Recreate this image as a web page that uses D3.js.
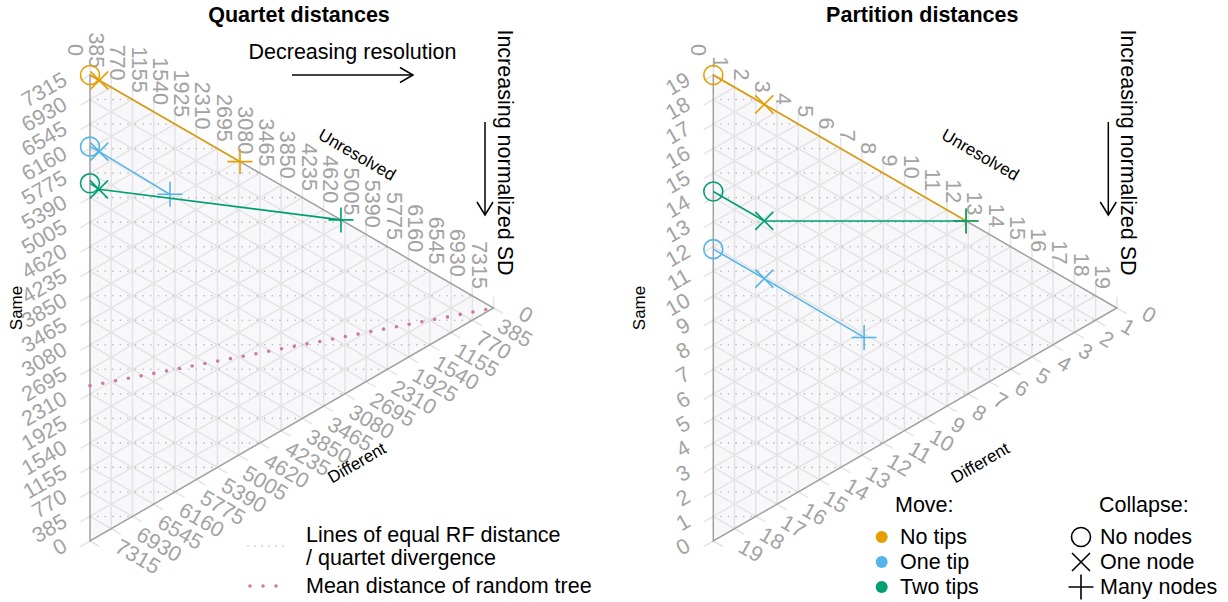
<!DOCTYPE html>
<html>
<head>
<meta charset="utf-8">
<script src="https://cdn.jsdelivr.net/npm/d3@7"></script>
<style>
  body { margin: 0; background: #ffffff; }
  svg { display: block; }
  text { font-family: "Liberation Sans", Arial, Helvetica, sans-serif; }
</style>
</head>
<body>
<svg id="chart" width="1228" height="602"></svg>
<script>
// ---- Data -------------------------------------------------------------
const moveLabels = ["No tips", "One tip", "Two tips"];
const moveColours = ["#E69F00", "#56B4E9", "#009E73"];
const collapseLabels = ["No nodes", "One node", "Many nodes"];
const collapseShapes = ["circle", "cross", "plus"];

// Quartet counts: rows = tips moved, columns = nodes collapsed
const quartetTotal = 7315;
const quartetTicks = [0, 385, 770, 1155, 1540, 1925, 2310, 2695, 3080, 3465,
  3850, 4235, 4620, 5005, 5390, 5775, 6160, 6545, 6930, 7315];
const quartetSame = [[7315, 7147, 4596], [6190, 6027, 4717], [5615, 5439, 2766]];
const quartetUnresolved = [[0, 168, 2719], [0, 169, 1450], [0, 163, 4549]];
const quartetDifferent = [[0, 0, 0], [1125, 1119, 1148], [1700, 1713, 0]];

// Expected quartet status of a random tree (line towards the Unresolved corner)
const randomSame = [2438.3, 0];
const randomUnresolved = [0, 7315];
const randomDifferent = [4876.7, 0];

// Partition (split) counts: rows = tips moved, columns = nodes collapsed
const partitionTotal = 19;
const partitionTicks = [0, 1, 2, 3, 4, 5, 6, 7, 8, 9, 10, 11, 12, 13, 14, 15, 16, 17, 18, 19];
const partitionSame = [[19, 16.6, 7.1], [11.9, 9.5, 4.75], [14.25, 11.85, 7.1]];
const partitionUnresolved = [[0, 2.4, 11.9], [0, 2.4, 7.1], [0, 2.4, 11.9]];
const partitionDifferent = [[0, 0, 0], [7.1, 7.1, 7.15], [4.75, 4.75, 0]];

// ---- Layout -----------------------------------------------------------
const svg = d3.select("#chart");
const triH = 466;
const triW = triH * Math.sqrt(3) / 2;
const yBottom = 541;
const tickFont = 21.5;
const tickCol = "#a3a3a3";
const gridCol = "#e4e4e4";
const edgeCol = "#a0a0a0";

const shapePaths = {
  cross: "M-9,-9L9,9M-9,9L9,-9",
  plus: "M-12.5,0H12.5M0,-12.5V12.5"
};

function drawMarker(g, shape, cx, cy, colour) {
  if (shape === "circle") {
    g.append("circle").attr("cx", cx).attr("cy", cy).attr("r", 9.5)
      .attr("fill", "none").attr("stroke", colour).attr("stroke-width", 1.6);
  } else {
    g.append("path").attr("transform", `translate(${cx},${cy})`)
      .attr("d", shapePaths[shape]).attr("fill", "none")
      .attr("stroke", colour).attr("stroke-width", 1.6);
  }
}

function drawPanel(p) {
  const g = svg.append("g");
  const total = p.total;
  const x = d3.scaleLinear().domain([0, total]).range([p.x0, p.x0 + triW]);
  const y = d3.scaleLinear().domain([0, total]).range([yBottom, yBottom - triH]);
  // ternary (same, unresolved, different) -> screen
  const pt = (s, u, d) => {
    const k = total / (s + u + d);
    return [x(u * k), y((s + u / 2) * k)];
  };
  const line = d3.line();

  const cSame = pt(total, 0, 0), cUnres = pt(0, total, 0), cDiff = pt(0, 0, total);

  // background
  g.append("path").attr("d", line([cSame, cUnres, cDiff]) + "Z")
    .attr("fill", "#f8f8fa").attr("stroke", "none");

  // triangular grid and tick extensions
  const grid = g.append("g").attr("stroke", gridCol).attr("stroke-width", 1.5).attr("fill", "none");
  const tl = 11;
  p.ticks.forEach(v => {
    const r = total - v;
    if (v > 0 && v < total) {
      grid.append("path").attr("d", line([pt(r, v, 0), pt(0, v, r)]));     // equal unresolved
      grid.append("path").attr("d", line([pt(v, 0, r), pt(v, r, 0)]));     // equal same
      grid.append("path").attr("d", line([pt(r, 0, v), pt(0, r, v)]));     // equal different
    }
    const a = pt(v, 0, r);
    grid.append("path").attr("d", line([a, [a[0] - tl * 0.866, a[1] + tl * 0.5]]));
    const b = pt(r, v, 0);
    grid.append("path").attr("d", line([b, [b[0], b[1] - tl]]));
    const c = pt(0, r, v);
    grid.append("path").attr("d", line([c, [c[0] + tl * 0.866, c[1] + tl * 0.5]]));
  });

  // horizontal dotted lines of equal distance
  const dots = g.append("g").attr("stroke", "#b4b4b4").attr("stroke-width", 1.6)
    .attr("stroke-linecap", "round").attr("stroke-dasharray", "0,7.6").attr("fill", "none");
  p.ticks.forEach(v => {
    if (v <= 0 || v >= total) return;
    const uEnd = Math.min(2 * v, 2 * (total - v));
    dots.append("path").attr("d", line([[x(0), y(v)], [x(uEnd), y(v)]]));
  });

  // edges
  g.append("path").attr("d", line([cSame, cUnres, cDiff]) + "Z")
    .attr("fill", "none").attr("stroke", edgeCol).attr("stroke-width", 1.5);

  // tick labels
  const lab = g.append("g").attr("fill", tickCol).attr("font-size", tickFont)
    .attr("dominant-baseline", "central");
  p.ticks.forEach(v => {
    const r = total - v;
    const a = pt(v, 0, r);
    lab.append("text").attr("text-anchor", "end")
      .attr("transform", `translate(${a[0] - 25},${a[1] + 3}) rotate(-30)`).text(v);
    const b = pt(r, v, 0);
    lab.append("text").attr("text-anchor", "end")
      .attr("transform", `translate(${b[0] - 15},${b[1] - 19}) rotate(90)`).text(v);
    const c = pt(0, r, v);
    lab.append("text").attr("text-anchor", "start")
      .attr("transform", `translate(${c[0] + 27},${c[1] + 4}) rotate(30)`).text(v);
  });

  // axis names
  const names = g.append("g").attr("fill", "#000").attr("font-size", 17)
    .attr("text-anchor", "middle").attr("dominant-baseline", "central");
  names.append("text").attr("transform", `translate(${p.x0 + 267},155) rotate(30)`).text("Unresolved");
  names.append("text").attr("transform", `translate(${p.x0 + 267},463) rotate(-30)`).text("Different");
  names.append("text").attr("transform", `translate(${p.x0 - 74},308) rotate(-90)`).text("Same");

  // title
  g.append("text").attr("x", p.x0 + 209).attr("y", 22).attr("text-anchor", "middle")
    .attr("font-size", 21.5).attr("font-weight", "bold").text(p.title);

  // direction annotations
  const ann = g.append("g").attr("stroke", "#000").attr("stroke-width", 1.5).attr("fill", "none");
  const vx = p.x0 + 395;
  ann.append("path").attr("d", line([[vx, 122], [vx, 215]]));
  ann.append("path").attr("d", line([[vx - 8, 202], [vx, 215], [vx + 8, 202]]));
  g.append("text").attr("transform", `translate(${p.x0 + 415},152.5) rotate(90)`)
    .attr("text-anchor", "middle").attr("dominant-baseline", "central")
    .attr("font-size", 21.5).text("Increasing normalized SD");
  if (p.showResolution) {
    ann.append("path").attr("d", line([[p.x0 + 202, 75], [p.x0 + 323, 75]]));
    ann.append("path").attr("d", line([[p.x0 + 310, 67.5], [p.x0 + 323, 75], [p.x0 + 310, 82.5]]));
    g.append("text").attr("x", p.x0 + 262.5).attr("y", 59).attr("text-anchor", "middle")
      .attr("font-size", 21.5).text("Decreasing resolution");
  }

  // expected distance of a random tree
  if (p.random) {
    const pts = p.random.same.map((s, i) => pt(s, p.random.unresolved[i], p.random.different[i]));
    g.append("path").attr("d", line(pts)).attr("fill", "none")
      .attr("stroke", "#CC79A7").attr("stroke-width", 3.6)
      .attr("stroke-linecap", "round").attr("stroke-dasharray", "0,13");
  }

  // data: one track per number of tips moved
  moveLabels.forEach((m, i) => {
    const pts = p.same[i].map((s, j) => pt(s, p.unresolved[i][j], p.different[i][j]));
    g.append("path").attr("d", line(pts)).attr("fill", "none")
      .attr("stroke", moveColours[i]).attr("stroke-width", 1.6);
    pts.forEach((q, j) => drawMarker(g, collapseShapes[j], q[0], q[1], moveColours[i]));
  });
}

drawPanel({
  title: "Quartet distances", x0: 90, total: quartetTotal, ticks: quartetTicks,
  same: quartetSame, unresolved: quartetUnresolved, different: quartetDifferent,
  random: {same: randomSame, unresolved: randomUnresolved, different: randomDifferent},
  showResolution: true
});
drawPanel({
  title: "Partition distances", x0: 713.3, total: partitionTotal, ticks: partitionTicks,
  same: partitionSame, unresolved: partitionUnresolved, different: partitionDifferent,
  random: null, showResolution: false
});

// ---- Legends ----------------------------------------------------------
const legL = svg.append("g").attr("font-size", 21.5).attr("dominant-baseline", "central");
legL.append("path").attr("d", "M248,546H284").attr("stroke", "#b4b4b4").attr("stroke-width", 1.6)
  .attr("stroke-linecap", "round").attr("stroke-dasharray", "0,7");
legL.append("path").attr("d", "M250,586H277").attr("stroke", "#CC79A7").attr("stroke-width", 3.6)
  .attr("stroke-linecap", "round").attr("stroke-dasharray", "0,13");
legL.append("text").attr("x", 306).attr("y", 535).text("Lines of equal RF distance");
legL.append("text").attr("x", 306).attr("y", 558).text("/ quartet divergence");
legL.append("text").attr("x", 306).attr("y", 586).text("Mean distance of random tree");

const legR = svg.append("g").attr("font-size", 21.5).attr("dominant-baseline", "central");
legR.append("text").attr("x", 895).attr("y", 505).text("Move:");
legR.append("text").attr("x", 1099).attr("y", 505).text("Collapse:");
moveLabels.forEach((m, i) => {
  const yy = 537 + i * 25;
  legR.append("circle").attr("cx", 881.7).attr("cy", yy).attr("r", 6).attr("fill", moveColours[i]);
  legR.append("text").attr("x", 900).attr("y", yy).text(m);
});
collapseLabels.forEach((c, i) => {
  const yy = 537 + i * 25;
  drawMarker(legR, collapseShapes[i], 1081, yy, "#000");
  legR.append("text").attr("x", 1100).attr("y", yy).text(c);
});
</script>
</body>
</html>
